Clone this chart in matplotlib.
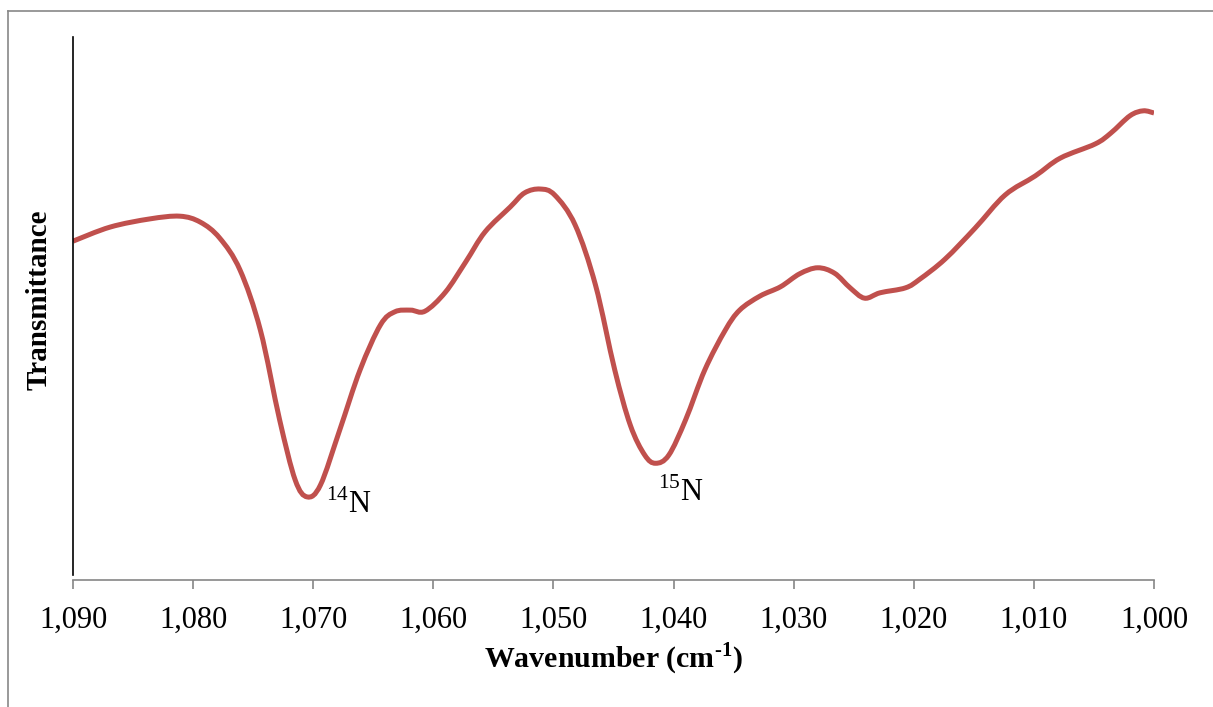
import numpy as np
import matplotlib.pyplot as plt
from matplotlib.ticker import FuncFormatter
from matplotlib.lines import Line2D
from matplotlib.path import Path
from matplotlib.patches import PathPatch

plt.rcParams['font.family'] = ['Liberation Serif', 'DejaVu Serif']
plt.rcParams['mathtext.fontset'] = 'custom'
plt.rcParams['mathtext.rm'] = 'Liberation Serif'
plt.rcParams['mathtext.bf'] = 'Liberation Serif:bold'

# espectro IR (unidades arbitrarias)
wavenumber = [1090.0, 1086.9, 1083.6, 1081.1, 1079.4, 1077.8, 1076.1, 1074.4,
              1072.8, 1071.5, 1070.5, 1069.4, 1067.8, 1066.1, 1064.4, 1063.2,
              1061.9, 1060.7, 1059.0, 1057.3, 1055.7, 1053.6, 1052.4, 1051.1,
              1049.9, 1048.2, 1046.5, 1044.9, 1043.6, 1042.4, 1041.5, 1040.4,
              1039.0, 1037.4, 1035.7, 1034.5, 1032.8, 1031.1, 1029.5, 1028.0,
              1026.6, 1025.3, 1024.1, 1022.8, 1020.7, 1019.5, 1017.4, 1014.9,
              1012.4, 1009.9, 1007.8, 1004.9, 1003.6, 1002.0, 1000.9, 1000.0]
transmittance = [62.4, 65.0, 66.5, 67.0, 65.9, 63.0, 57.1, 46.0,
                 29.5, 18.4, 15.3, 17.5, 27.6, 38.7, 47.0, 49.4,
                 49.7, 49.5, 53.0, 58.6, 64.1, 68.7, 71.3, 72.0,
                 70.9, 65.4, 54.3, 38.7, 28.5, 23.0, 21.5, 23.0,
                 29.5, 38.7, 46.0, 49.7, 52.3, 54.0, 56.4, 57.5,
                 56.5, 53.8, 51.9, 52.9, 53.8, 55.4, 59.1, 64.8,
                 70.9, 74.4, 77.7, 80.3, 82.3, 85.5, 86.4, 86.0]

peak_labels = [r'$^{14}$N', r'$^{15}$N']
peak_pos = [(1068.9, 12.4), (1039.4, 14.5)]


def linea_suave(x, y):
    # curva tipo "linea suavizada" de Excel con segmentos Bezier
    pts = np.column_stack([x, y])
    verts = [pts[0]]
    codes = [Path.MOVETO]
    n = len(pts)
    for i in range(n - 1):
        p0 = pts[max(i - 1, 0)]
        p1 = pts[i]
        p2 = pts[i + 1]
        p3 = pts[min(i + 2, n - 1)]
        c1 = p1 + (p2 - p0) / 6.0
        c2 = p2 - (p3 - p1) / 6.0
        verts += [c1, c2, p2]
        codes += [Path.CURVE4] * 3
    return Path(verts, codes)


fig = plt.figure(figsize=(12.13, 7.07), dpi=100)
ax = fig.add_axes([0.0602, 0.1796, 0.8912, 0.7681])

ax.add_patch(PathPatch(linea_suave(wavenumber, transmittance), facecolor='none',
                       edgecolor='#C0504D', lw=3.6, capstyle='butt'))

ax.set_xlim(1090, 1000)
ax.set_ylim(0, 100)
ax.set_xticks(np.arange(1090, 999, -10))
ax.xaxis.set_major_formatter(FuncFormatter(lambda v, p: '{:,.0f}'.format(v)))
ax.set_yticks([])

for s in ['top', 'right']:
    ax.spines[s].set_visible(False)
ax.spines['left'].set_color('black')
ax.spines['left'].set_linewidth(1.2)
ax.spines['left'].set_bounds(0.9, 100)
ax.spines['bottom'].set_color('#868686')
ax.spines['bottom'].set_linewidth(1.2)
ax.tick_params(axis='x', direction='out', length=6.5, width=1.2, color='#868686',
               labelsize=22, pad=12)

ax.set_xlabel('Wavenumber (cm$^{\\mathbf{\u20101}}$)', fontsize=21.5, fontweight='bold', labelpad=4)
ax.set_ylabel('Transmittance', fontsize=21, fontweight='bold')
ax.yaxis.set_label_coords(-0.0185, 0.516)

# etiquetas de los picos
ax.text(peak_pos[0][0], peak_pos[0][1], peak_labels[0], fontsize=22, ha='left', va='baseline')
ax.text(peak_pos[1][0], peak_pos[1][1], peak_labels[1], fontsize=22, ha='center', va='baseline')

# marco gris de la figura
fig.add_artist(Line2D([8/1213, 8/1213], [0, 1 - 11/707], color='#888888', lw=1.2))
fig.add_artist(Line2D([8/1213, 1], [1 - 11/707, 1 - 11/707], color='#888888', lw=1.2))

plt.savefig('out.png', dpi=100)
